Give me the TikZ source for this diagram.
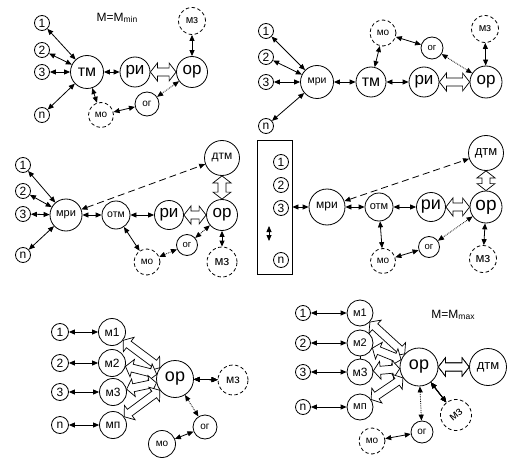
\documentclass[tikz,border=0pt]{standalone}
\usepackage{fontspec}
\setmainfont{Liberation Sans}
\usetikzlibrary{arrows.meta,calc}

\newcommand{\fsz}[1]{\fontsize{#1}{#1}\selectfont}
\newcommand{\hollowarrow}[2]{%
  \path (#1) -- coordinate[pos=0] (ha) coordinate[pos=1] (hb) (#2);
  \draw[hollow] let \p1=($(hb)-(ha)$), \n1={atan2(\y1,\x1)} in
    (ha) -- ($(ha)+(\n1:7pt)+(\n1+90:9pt)$) -- ($(ha)+(\n1:7pt)+(\n1+90:4pt)$)
    -- ($(hb)+(\n1:-7pt)+(\n1+90:4pt)$) -- ($(hb)+(\n1:-7pt)+(\n1+90:9pt)$)
    -- (hb) -- ($(hb)+(\n1:-7pt)+(\n1-90:9pt)$) -- ($(hb)+(\n1:-7pt)+(\n1-90:4pt)$)
    -- ($(ha)+(\n1:7pt)+(\n1-90:4pt)$) -- ($(ha)+(\n1:7pt)+(\n1-90:9pt)$) -- cycle;
}

\begin{document}
\begin{tikzpicture}[x=1pt,y=-1pt,
    cir/.style={circle,draw,line width=0.8pt,inner sep=0pt,minimum size=#1},
    dcir/.style={cir=#1,dash pattern=on 3.5pt off 2.5pt},
    num/.style={cir=15,font=\fsz{12}},
    fs/.style={font=\fsz{#1}},
    ar/.style={line width=0.8pt,{Triangle[length=6pt,width=5pt]}-{Triangle[length=6pt,width=5pt]}},
    dotar/.style={ar,densely dotted},
    dashar/.style={ar,dash pattern=on 7pt off 4pt},
    hollow/.style={draw,fill=white,line width=0.7pt,line join=miter}]
  \useasboundingbox (0,0) rectangle (529,465);

  % M = Mmin
  \node[fs=12] (ttlmin) at (117,18) {M=M\raisebox{-1pt}{\fsz{8.5}min}};
  \node[num] (a1) at (42,23) {1};
  \node[num] (a2) at (42,50) {2};
  \node[num] (a3) at (42,72) {3};
  \node[num] (an) at (42,115) {n};
  \node[cir=33,fs=16] (atm) at (87,72) {тм};
  \node[cir=30,fs=17] (ari) at (135,72) {ри};
  \node[cir=31,fs=17] (aor) at (192,72) {ор};
  \node[dcir=27,fs=11] (amz) at (192,21) {мз};
  \node[dcir=25,fs=10] (amo) at (101,115) {мо};
  \node[cir=24,fs=10] (aog) at (147,104) {ог};
  \foreach \i in {1,2,3,n} \draw[ar] (a\i) -- (atm);
  \draw[ar] (atm) -- (ari);
  \hollowarrow{ari}{aor}
  \draw[ar] (amz) -- (aor);
  \draw[ar] (atm) -- (amo);
  \draw[ar] (amo) -- (aog);
  \draw[dotar] (aog) -- (aor);

  \node[num] (b1) at (266,31) {1};
  \node[num] (b2) at (266,57) {2};
  \node[num] (b3) at (266,82) {3};
  \node[num] (bn) at (266,126) {n};
  \node[cir=33,fs=10.5] (bmri) at (317,82) {мри};
  \node[cir=30,fs=16] (btm) at (371,82) {тм};
  \node[cir=30,fs=17] (bri) at (424,82) {ри};
  \node[cir=32,fs=17] (bor) at (486,82) {ор};
  \node[dcir=27,fs=11] (bmz) at (485,29) {мз};
  \node[dcir=26,fs=10] (bmo) at (383,33) {мо};
  \node[cir=22,fs=9.5] (bog) at (432,48) {ог};
  \foreach \i in {1,2,3,n} \draw[ar] (b\i) -- (bmri);
  \draw[ar] (bmri) -- (btm);
  \draw[ar] (btm) -- (bri);
  \hollowarrow{bri}{bor}
  \draw[ar] (bmz) -- (bor);
  \draw[ar] (btm) -- (bmo);
  \draw[ar] (bmo) -- (bog);
  \draw[dotar] (bog) -- (bor);

  \node[num] (c1) at (23,165) {1};
  \node[num] (c2) at (23,191) {2};
  \node[num] (c3) at (23,214) {3};
  \node[num] (cn) at (23,255) {n};
  \node[cir=32,fs=11] (cmri) at (66,215) {мри};
  \node[cir=28,fs=10.5] (cotm) at (116,215) {отм};
  \node[cir=29,fs=17] (cri) at (169,215) {ри};
  \node[cir=31,fs=17] (cor) at (222,215) {ор};
  \node[cir=35,fs=12] (cdtm) at (222,158) {дтм};
  \node[cir=21,fs=9.5] (cog) at (187,245) {ог};
  \node[dcir=26,fs=10] (cmo) at (147,262) {мо};
  \node[dcir=30,fs=13] (cmz) at (222,262) {мз};
  \foreach \i in {1,2,3,n} \draw[ar] (c\i) -- (cmri);
  \draw[ar] (cmri) -- (cotm);
  \draw[ar] (cotm) -- (cri);
  \hollowarrow{cri}{cor}
  \hollowarrow{cdtm}{cor}
  \draw[dashar] (cmri) -- (cdtm);
  \draw[ar] (cotm) -- (cmo);
  \draw[dotar] (cmo) -- (cog);
  \draw[dotar] (cog) -- (cor);
  \draw[ar] (cor) -- (cmz);

  \node[draw,line width=0.8pt,minimum width=35,minimum height=134] (dbox) at (274.5,207) {};
  \node[num] (d1) at (281,162) {1};
  \node[num] (d2) at (281,185) {2};
  \node[num] (d3) at (281,208) {3};
  \node[num] (dn) at (281,260) {n};
  \coordinate (dup) at (269,226);
  \coordinate (ddn) at (269,241);
  \draw[ar] (dup) -- (ddn);
  \node[cir=36,fs=12] (dmri) at (327,207) {мри};
  \node[cir=28,fs=11] (dotm) at (379,207) {отм};
  \node[cir=29,fs=18] (dri) at (431,207) {ри};
  \node[cir=32,fs=19] (dor) at (486,207) {ор};
  \node[cir=35,fs=13] (ddtm) at (486,153) {дтм};
  \node[cir=21,fs=9.5] (dog) at (429,247) {ог};
  \node[dcir=25,fs=10] (dmo) at (383,261) {мо};
  \node[dcir=27,fs=13] (dmz) at (483,259) {мз};
  \draw[ar] (dbox.east) -- (dmri);
  \draw[ar] (dmri) -- (dotm);
  \draw[ar] (dotm) -- (dri);
  \hollowarrow{dri}{dor}
  \hollowarrow{ddtm}{dor}
  \draw[dashar] (dmri) -- (ddtm);
  \draw[ar] (dotm) -- (dmo);
  \draw[ar] (dmo) -- (dog);
  \draw[dotar] (dog) -- (dor);
  \draw[ar] (dor) -- (dmz);

  \node[num,minimum size=17] (e1) at (60,332) {1};
  \node[num,minimum size=17] (e2) at (60,363) {2};
  \node[num,minimum size=17] (e3) at (60,392) {3};
  \node[num,minimum size=17] (en) at (60,425) {n};
  \node[cir=27,fs=12] (em1) at (112,332) {м1};
  \node[cir=27,fs=12] (em2) at (112,363) {м2};
  \node[cir=27,fs=12] (em3) at (113,392) {м3};
  \node[cir=27,fs=12] (emn) at (113,425) {мп};
  \node[cir=37,fs=18] (eor) at (175,379) {ор};
  \node[dcir=30,fs=12] (emz) at (233,380) {мз};
  \node[cir=24,fs=10] (eog) at (205,427) {ог};
  \node[cir=27,fs=10] (emo) at (162,444) {мо};
  \foreach \i in {1,2,3,n} \draw[ar] (e\i) -- (em\i);
  \foreach \i in {1,2,3,n} \hollowarrow{eor}{em\i}
  \draw[ar] (eor) -- (emz);
  \draw[dotar] (eor) -- (eog);
  \draw[ar] (eog) -- (emo);

  % M = Mmax
  \node[fs=12] (ttlmax) at (453,315) {M=M\raisebox{-1pt}{\fsz{8.5}max}};
  \node[num] (f1) at (303,313) {1};
  \node[num] (f2) at (303,343) {2};
  \node[num] (f3) at (303,372) {3};
  \node[num] (fn) at (303,407) {n};
  \node[cir=26,fs=11] (fm1) at (360,313) {м1};
  \node[cir=26,fs=11] (fm2) at (360,343) {м2};
  \node[cir=26,fs=12] (fm3) at (360,372) {м3};
  \node[cir=26,fs=11] (fmn) at (360,407) {мп};
  \node[cir=38,fs=18] (for) at (419,367) {ор};
  \node[cir=37,fs=13] (fdtm) at (488,367) {дтм};
  \node[dcir=31,fs=12,rotate=40] (fmz) at (456,415) {мз};
  \node[cir=22,fs=10] (fog) at (422,432) {ог};
  \node[dcir=26,fs=10] (fmo) at (372,441) {мо};
  \foreach \i in {1,2,3,n} \draw[ar] (f\i) -- (fm\i);
  \draw[line width=0.4pt] (fm2) -- (fm3);
  \foreach \i in {1,2,3,n} \hollowarrow{for}{fm\i}
  \hollowarrow{for}{fdtm}
  \draw[ar] (for) -- (fmz);
  \draw[dotar] (for) -- (fog);
  \draw[ar] (fog) -- (fmo);
\end{tikzpicture}
\end{document}
